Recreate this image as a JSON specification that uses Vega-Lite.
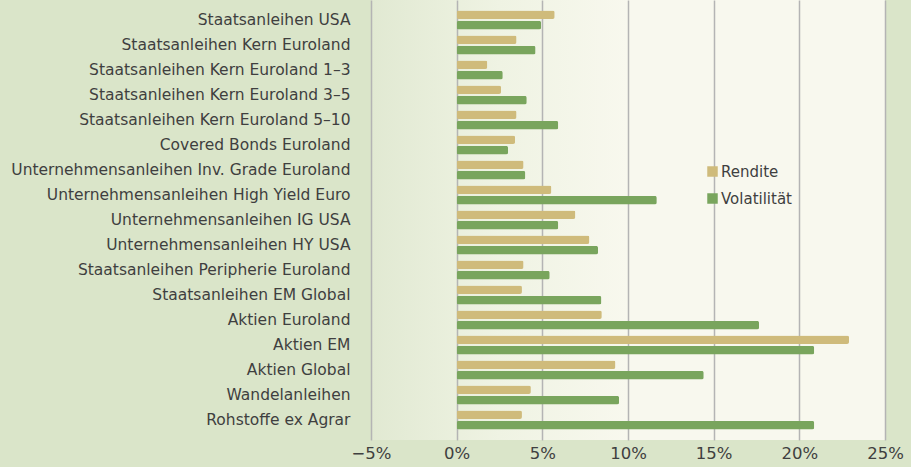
{
  "$schema": "https://vega.github.io/schema/vega-lite/v6.json",
  "width": 514,
  "height": 440,
  "autosize": {"type": "none"},
  "padding": {"left": 371, "top": 0, "right": 26, "bottom": 27},
  "background": "#dae5c9",
  "config": {
    "view": {
      "stroke": null,
      "fill": {
        "gradient": "linear",
        "x1": 0, "y1": 0, "x2": 1, "y2": 0,
        "stops": [
          {"offset": 0, "color": "#e1e9d2"},
          {"offset": 0.25, "color": "#eff3e3"},
          {"offset": 0.5, "color": "#f8f8ee"},
          {"offset": 1, "color": "#f8f8ee"}
        ]
      }
    }
  },
  "data": {
    "values": [
      {"Kategorie": "Staatsanleihen USA", "Kennzahl": "Rendite", "Wert": 5.72},
      {"Kategorie": "Staatsanleihen USA", "Kennzahl": "Volatilität", "Wert": 4.93},
      {"Kategorie": "Staatsanleihen Kern Euroland", "Kennzahl": "Rendite", "Wert": 3.5},
      {"Kategorie": "Staatsanleihen Kern Euroland", "Kennzahl": "Volatilität", "Wert": 4.61},
      {"Kategorie": "Staatsanleihen Kern Euroland 1–3", "Kennzahl": "Rendite", "Wert": 1.79},
      {"Kategorie": "Staatsanleihen Kern Euroland 1–3", "Kennzahl": "Volatilität", "Wert": 2.69},
      {"Kategorie": "Staatsanleihen Kern Euroland 3–5", "Kennzahl": "Rendite", "Wert": 2.59},
      {"Kategorie": "Staatsanleihen Kern Euroland 3–5", "Kennzahl": "Volatilität", "Wert": 4.09},
      {"Kategorie": "Staatsanleihen Kern Euroland 5–10", "Kennzahl": "Rendite", "Wert": 3.5},
      {"Kategorie": "Staatsanleihen Kern Euroland 5–10", "Kennzahl": "Volatilität", "Wert": 5.93},
      {"Kategorie": "Covered Bonds Euroland", "Kennzahl": "Rendite", "Wert": 3.41},
      {"Kategorie": "Covered Bonds Euroland", "Kennzahl": "Volatilität", "Wert": 3.0},
      {"Kategorie": "Unternehmensanleihen Inv. Grade Euroland", "Kennzahl": "Rendite", "Wert": 3.91},
      {"Kategorie": "Unternehmensanleihen Inv. Grade Euroland", "Kennzahl": "Volatilität", "Wert": 4.01},
      {"Kategorie": "Unternehmensanleihen High Yield Euro", "Kennzahl": "Rendite", "Wert": 5.53},
      {"Kategorie": "Unternehmensanleihen High Yield Euro", "Kennzahl": "Volatilität", "Wert": 11.68},
      {"Kategorie": "Unternehmensanleihen IG USA", "Kennzahl": "Rendite", "Wert": 6.93},
      {"Kategorie": "Unternehmensanleihen IG USA", "Kennzahl": "Volatilität", "Wert": 5.93},
      {"Kategorie": "Unternehmensanleihen HY USA", "Kennzahl": "Rendite", "Wert": 7.75},
      {"Kategorie": "Unternehmensanleihen HY USA", "Kennzahl": "Volatilität", "Wert": 8.25},
      {"Kategorie": "Staatsanleihen Peripherie Euroland", "Kennzahl": "Rendite", "Wert": 3.91},
      {"Kategorie": "Staatsanleihen Peripherie Euroland", "Kennzahl": "Volatilität", "Wert": 5.43},
      {"Kategorie": "Staatsanleihen EM Global", "Kennzahl": "Rendite", "Wert": 3.81},
      {"Kategorie": "Staatsanleihen EM Global", "Kennzahl": "Volatilität", "Wert": 8.45},
      {"Kategorie": "Aktien Euroland", "Kennzahl": "Rendite", "Wert": 8.47},
      {"Kategorie": "Aktien Euroland", "Kennzahl": "Volatilität", "Wert": 17.65},
      {"Kategorie": "Aktien EM", "Kennzahl": "Rendite", "Wert": 22.9},
      {"Kategorie": "Aktien EM", "Kennzahl": "Volatilität", "Wert": 20.87},
      {"Kategorie": "Aktien Global", "Kennzahl": "Rendite", "Wert": 9.27},
      {"Kategorie": "Aktien Global", "Kennzahl": "Volatilität", "Wert": 14.42},
      {"Kategorie": "Wandelanleihen", "Kennzahl": "Rendite", "Wert": 4.33},
      {"Kategorie": "Wandelanleihen", "Kennzahl": "Volatilität", "Wert": 9.48},
      {"Kategorie": "Rohstoffe ex Agrar", "Kennzahl": "Rendite", "Wert": 3.81},
      {"Kategorie": "Rohstoffe ex Agrar", "Kennzahl": "Volatilität", "Wert": 20.87}
    ]
  },
  "mark": {"type": "bar", "cornerRadius": 2},
  "encoding": {
    "y": {
      "field": "Kategorie",
      "type": "nominal",
      "sort": null,
      "scale": {"paddingInner": 0.24, "paddingOuter": 0.42},
      "axis": {
        "title": null,
        "domain": false,
        "ticks": false,
        "labelPadding": 21,
        "labelFont": "DejaVu Sans",
        "labelFontSize": 15.5,
        "labelColor": "#3f3f3f",
        "labelLimit": 400
      }
    },
    "yOffset": {
      "field": "Kennzahl",
      "type": "nominal",
      "sort": ["Rendite", "Volatilität"],
      "scale": {"paddingInner": 0.17}
    },
    "x": {
      "field": "Wert",
      "type": "quantitative",
      "scale": {"domain": [-5, 25], "nice": false, "zero": false},
      "axis": {
        "title": null,
        "values": [-5, 0, 5, 10, 15, 20, 25],
        "format": "d",
        "labelExpr": "datum.label + '%'",
        "domain": false,
        "ticks": false,
        "grid": true,
        "gridColor": "#b4b4b4",
        "gridWidth": 1.5,
        "labelFont": "DejaVu Sans",
        "labelFontSize": 16.5,
        "labelColor": "#3f3f3f",
        "labelPadding": 5,
        "labelFlush": false
      }
    },
    "color": {
      "field": "Kennzahl",
      "type": "nominal",
      "scale": {"domain": ["Rendite", "Volatilität"], "range": ["#cfbb7b", "#79a55d"]},
      "legend": {
        "title": null,
        "orient": "none",
        "legendX": 334,
        "legendY": 164,
        "symbolType": "square",
        "symbolSize": 110,
        "symbolStrokeWidth": 0,
        "labelFont": "DejaVu Sans",
        "labelFontSize": 15,
        "labelColor": "#3f3f3f",
        "labelOffset": 1,
        "rowPadding": 11
      }
    }
  }
}
